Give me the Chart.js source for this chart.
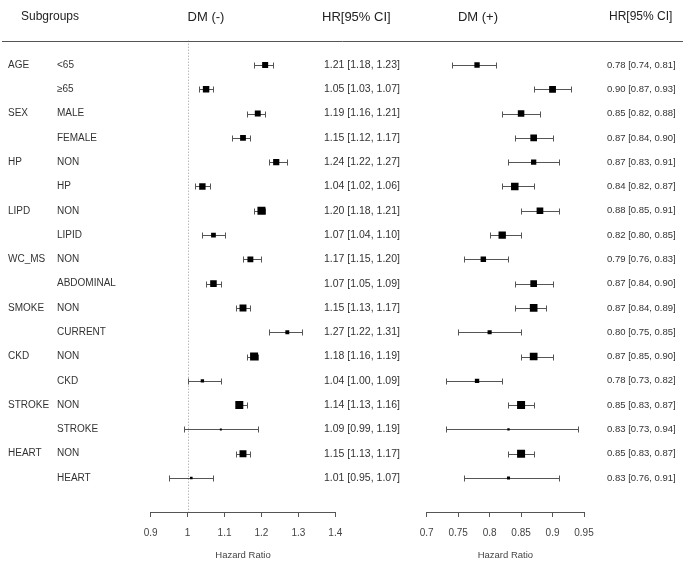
<!DOCTYPE html>
<html>
<head>
<meta charset="utf-8">
<script src="https://cdn.jsdelivr.net/npm/chart.js@4.4.0/dist/chart.umd.min.js"></script>
<style>
body { margin: 0; background: #fff; }
#wrap { position: relative; width: 685px; height: 564px; }
#wrap canvas { position: absolute; left: 0; top: 0; }
</style>
</head>
<body>
<div id="wrap">
  <canvas id="negChart" width="685" height="564"></canvas>
  <canvas id="posChart" width="685" height="564"></canvas>
</div>
<script>
var groups = ['AGE', 'SEX', 'HP', 'LIPD', 'WC_MS', 'SMOKE', 'CKD', 'STROKE', 'HEART'];
var subgroups = ['<65', '\u226565', 'MALE', 'FEMALE', 'NON', 'HP', 'NON', 'LIPID', 'NON', 'ABDOMINAL',
                 'NON', 'CURRENT', 'NON', 'CKD', 'NON', 'STROKE', 'NON', 'HEART'];

// DM (-)
var hrNeg = [1.21, 1.05, 1.19, 1.15, 1.24, 1.04, 1.20, 1.07, 1.17, 1.07, 1.15, 1.27, 1.18, 1.04, 1.14, 1.09, 1.15, 1.01];
var loNeg = [1.18, 1.03, 1.16, 1.12, 1.22, 1.02, 1.18, 1.04, 1.15, 1.05, 1.13, 1.22, 1.16, 1.00, 1.13, 0.99, 1.13, 0.95];
var hiNeg = [1.23, 1.07, 1.21, 1.17, 1.27, 1.06, 1.21, 1.10, 1.20, 1.09, 1.17, 1.31, 1.19, 1.09, 1.16, 1.19, 1.17, 1.07];

// DM (+)
var hrPos = [0.78, 0.90, 0.85, 0.87, 0.87, 0.84, 0.88, 0.82, 0.79, 0.87, 0.87, 0.80, 0.87, 0.78, 0.85, 0.83, 0.85, 0.83];
var loPos = [0.74, 0.87, 0.82, 0.84, 0.83, 0.82, 0.85, 0.80, 0.76, 0.84, 0.84, 0.75, 0.85, 0.73, 0.83, 0.73, 0.83, 0.76];
var hiPos = [0.81, 0.93, 0.88, 0.90, 0.91, 0.87, 0.91, 0.85, 0.83, 0.90, 0.89, 0.85, 0.90, 0.82, 0.87, 0.94, 0.87, 0.91];

var ticksNeg = [0.9, 1, 1.1, 1.2, 1.3, 1.4];
var ticksPos = [0.7, 0.75, 0.8, 0.85, 0.9, 0.95];

var FONT = '"Liberation Sans", Arial, sans-serif';
var TEXT = '#333';
var LINE = '#555';

function fmt(v) { return v.toFixed(2); }

// box size from CI width (log scale), relative to the narrowest CI in the panel
function boxSizes(lo, hi) {
  var w = lo.map(function(l, i) { return Math.log(hi[i] / l); });
  var minW = Math.min.apply(null, w);
  return w.map(function(x) { return Math.max(2, Math.min(8, 9 * Math.pow(minW / x, 0.8))); });
}

var whiskers = {
  id: 'whiskers',
  beforeDatasetsDraw: function(chart) {
    var ctx = chart.ctx, xs = chart.scales.x, ys = chart.scales.y;
    var o = chart.options.plugins.whiskers;
    ctx.save();
    ctx.strokeStyle = LINE;
    ctx.lineWidth = 1;
    if (o.refLine !== null) {
      var rx = Math.round(xs.getPixelForValue(o.refLine)) + 0.5;
      ctx.save();
      ctx.strokeStyle = '#999';
      ctx.setLineDash([1, 2]);
      ctx.beginPath();
      ctx.moveTo(rx, chart.chartArea.top);
      ctx.lineTo(rx, chart.chartArea.bottom);
      ctx.stroke();
      ctx.restore();
    }
    for (var i = 0; i < o.lo.length; i++) {
      var y = Math.round(ys.getPixelForValue(i)) + 0.5;
      var x1 = Math.round(xs.getPixelForValue(o.lo[i])) + 0.5;
      var x2 = Math.round(xs.getPixelForValue(o.hi[i])) + 0.5;
      ctx.beginPath();
      ctx.moveTo(x1, y); ctx.lineTo(x2, y);
      ctx.moveTo(x1, y - 3); ctx.lineTo(x1, y + 3);
      ctx.moveTo(x2, y - 3); ctx.lineTo(x2, y + 3);
      ctx.stroke();
    }
    ctx.restore();
  }
};

var labels = {
  id: 'labels',
  afterDraw: function(chart) {
    var o = chart.options.plugins.labels;
    var ctx = chart.ctx, ys = chart.scales.y;
    ctx.save();
    ctx.fillStyle = '#222';
    ctx.textBaseline = 'middle';
    ctx.font = '13px ' + FONT;
    ctx.textAlign = 'center';
    ctx.fillText(o.title, o.titleX, 17);
    ctx.textAlign = 'left';
    ctx.font = o.headSize + 'px ' + FONT;
    ctx.fillText('HR[95% CI]', o.headX, 17);
    ctx.font = o.textSize + 'px ' + FONT;
    ctx.fillStyle = TEXT;
    for (var i = 0; i < o.hr.length; i++) {
      var y = ys.getPixelForValue(i);
      ctx.fillText(fmt(o.hr[i]) + ' [' + fmt(o.lo[i]) + ', ' + fmt(o.hi[i]) + ']', o.textX, y);
    }
    if (o.rows) {
      ctx.font = '10px ' + FONT;
      for (var j = 0; j < subgroups.length; j++) {
        var yy = ys.getPixelForValue(j);
        if (j % 2 === 0) ctx.fillText(groups[j / 2], 8, yy);
        ctx.fillText(subgroups[j], 57, yy);
      }
      ctx.font = '12px ' + FONT;
      ctx.fillStyle = '#222';
      ctx.textAlign = 'center';
      ctx.fillText('Subgroups', 50, 17);
      var ty = Math.round(chart.chartArea.top) + 0.5;
      ctx.strokeStyle = LINE;
      ctx.lineWidth = 1;
      ctx.beginPath();
      ctx.moveTo(2, ty); ctx.lineTo(683, ty);
      ctx.stroke();
    }
    ctx.restore();
  }
};

function forest(id, hr, lo, hi, ticks, padL, padR, opts) {
  var sizes = boxSizes(lo, hi);
  var points = hr.map(function(v, i) { return { x: v, y: i }; });
  return new Chart(document.getElementById(id), {
    type: 'scatter',
    data: {
      datasets: [{
        data: points,
        pointStyle: 'rect',
        backgroundColor: '#000',
        borderColor: '#000',
        borderWidth: 0,
        pointRadius: function(c) { return sizes[c.dataIndex] / (2 * Math.SQRT1_2); }
      }]
    },
    options: {
      responsive: false,
      animation: false,
      devicePixelRatio: 1,
      layout: { padding: { left: padL, right: padR, top: 40.7, bottom: 0 } },
      scales: {
        x: {
          type: 'linear',
          min: ticks[0],
          max: ticks[ticks.length - 1],
          afterBuildTicks: function(s) { s.ticks = ticks.map(function(v) { return { value: v }; }); },
          afterFit: function(s) { s.height = 52; },
          grid: { drawOnChartArea: false, drawTicks: true, tickLength: 5, color: LINE },
          border: { color: LINE },
          ticks: {
            padding: 10,
            color: '#444',
            font: { family: FONT, size: 10 },
            maxRotation: 0,
            callback: function(v) { return String(v); }
          },
          title: {
            display: true,
            text: 'Hazard Ratio',
            color: '#444',
            font: { family: FONT, size: 9.5 },
            padding: { top: 3, bottom: 3 }
          }
        },
        y: { type: 'linear', display: false, reverse: true, min: -1, max: 18.4 }
      },
      plugins: {
        legend: { display: false },
        tooltip: { enabled: false },
        whiskers: { lo: lo, hi: hi, refLine: opts.refLine },
        labels: {
          hr: hr, lo: lo, hi: hi, textX: opts.textX, textSize: opts.textSize,
          headX: opts.headX, headSize: opts.headSize,
          title: opts.title, titleX: opts.titleX, rows: opts.rows
        }
      }
    },
    plugins: [whiskers, labels]
  });
}

forest('negChart', hrNeg, loNeg, hiNeg, ticksNeg, 150.7, 685 - 335.3,
  { refLine: 1, textX: 324, textSize: 10.5, headX: 322, headSize: 13, title: 'DM (-)', titleX: 206, rows: true });
forest('posChart', hrPos, loPos, hiPos, ticksPos, 426.7, 685 - 584,
  { refLine: null, textX: 607, textSize: 9.5, headX: 609, headSize: 12, title: 'DM (+)', titleX: 478, rows: false });
</script>
</body>
</html>
